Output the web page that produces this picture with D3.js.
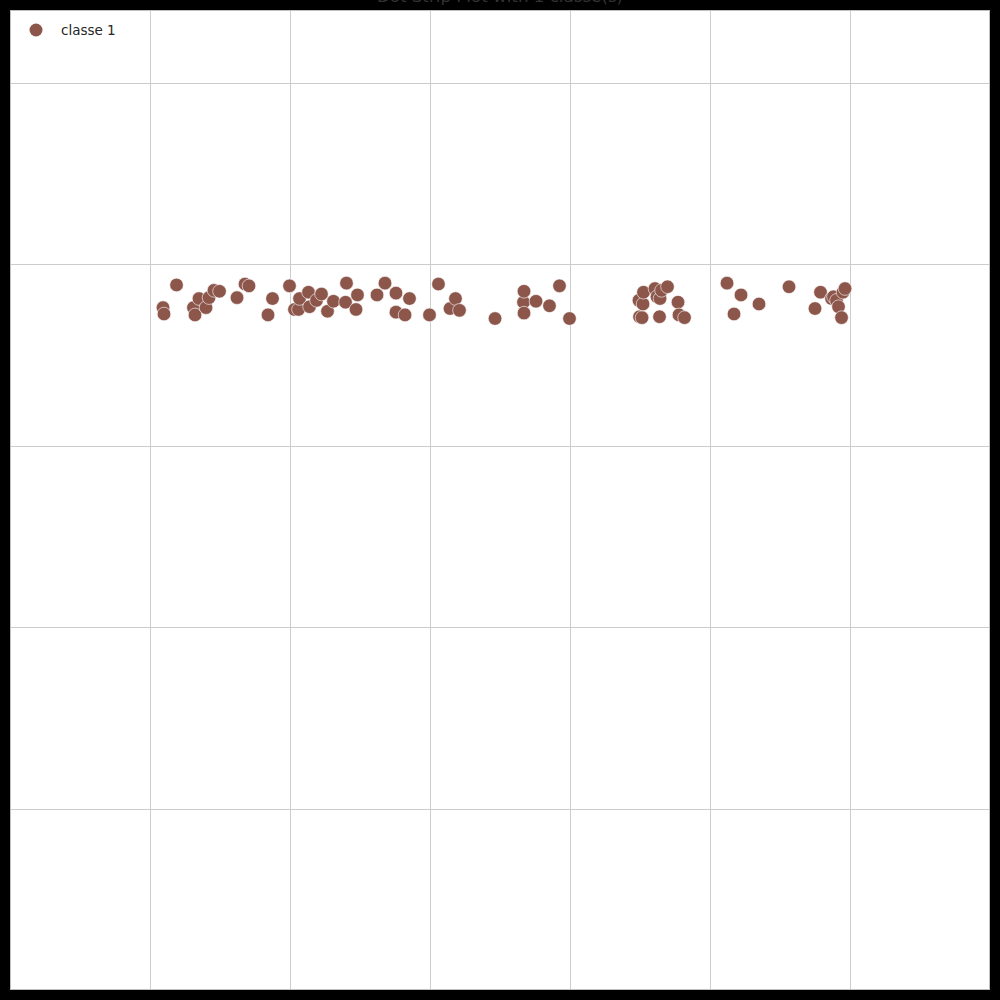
<!DOCTYPE html>
<html>
<head>
<meta charset="utf-8">
<script src="https://cdn.jsdelivr.net/npm/d3@7"></script>
<style>
  html, body { margin: 0; padding: 0; background: #000; }
  svg { display: block; }
</style>
</head>
<body>
<svg id="chart" width="1000" height="1000"></svg>
<script>
// ---- data ----
const title = "Dot Strip Plot with 1 classe(s)";
const classes = ["classe 1"];
const xValues = [1.86, 2.0, 3.79, 6.21, 6.43, 7.0, 8.0, 8.43, 9.14, 9.93,
  12.43, 13.57, 14.14, 16.86, 17.5, 19.93, 20.64, 21.21, 21.36, 22.64,
  22.79, 23.79, 24.5, 25.36, 26.21, 27.93, 28.07, 29.43, 29.64, 32.43,
  33.57, 35.14, 35.14, 36.43, 37.07, 39.93, 41.21, 42.86, 43.64, 44.21,
  49.29, 53.36, 53.43, 53.43, 55.14, 57.07, 58.5, 59.93, 69.86, 69.93,
  70.29, 70.43, 70.5, 72.14, 72.43, 72.79, 72.86, 73.07, 73.93, 75.43,
  75.57, 76.36, 82.43, 83.43, 84.43, 87.0, 91.29, 95.0, 95.79, 97.36,
  97.64, 98.07, 98.36, 98.79, 99.0, 99.29];
const yValues = [0.152, 0.145, 0.177, 0.152, 0.144, 0.162, 0.152, 0.163, 0.171, 0.170,
  0.163, 0.178, 0.176, 0.144, 0.162, 0.176, 0.150, 0.150, 0.162, 0.169,
  0.153, 0.160, 0.167, 0.148, 0.159, 0.158, 0.179, 0.150, 0.166, 0.166,
  0.179, 0.168, 0.147, 0.144, 0.162, 0.144, 0.178, 0.151, 0.162, 0.149,
  0.140, 0.158, 0.170, 0.146, 0.159, 0.154, 0.176, 0.140, 0.160, 0.142,
  0.141, 0.156, 0.169, 0.173, 0.164, 0.142, 0.162, 0.171, 0.175, 0.158,
  0.144, 0.141, 0.179, 0.145, 0.166, 0.156, 0.175, 0.151, 0.169, 0.162,
  0.164, 0.160, 0.153, 0.141, 0.169, 0.173];
const xTicks = [0, 20, 40, 60, 80, 100];
const yTicks = [-0.4, -0.2, 0, 0.2, 0.4];
const xDomain = [-20, 120];
const yDomain = [-0.6, 0.48];
const classColors = ["#8c564b"];

// ---- layout ----
const svg = d3.select("#chart");
const plot = { left: 10, top: 10, right: 990, bottom: 990 };

svg.append("rect").attr("x", 0).attr("y", 0).attr("width", 1000).attr("height", 1000).attr("fill", "#000");

const x = d3.scaleLinear().domain(xDomain).range([plot.left, plot.right]);
const y = d3.scaleLinear().domain(yDomain).range([plot.bottom, plot.top]);

svg.append("rect")
  .attr("x", plot.left).attr("y", plot.top)
  .attr("width", plot.right - plot.left).attr("height", plot.bottom - plot.top)
  .attr("fill", "#fff");

// grid via axes
const gx = svg.append("g")
  .attr("transform", `translate(0,${plot.bottom})`)
  .call(d3.axisBottom(x).tickValues(xTicks).tickSize(-(plot.bottom - plot.top)).tickFormat(""));
const gy = svg.append("g")
  .attr("transform", `translate(${plot.left},0)`)
  .call(d3.axisLeft(y).tickValues(yTicks).tickSize(-(plot.right - plot.left)).tickFormat(""));
[gx, gy].forEach(g => {
  g.select(".domain").remove();
  g.selectAll(".tick line").attr("stroke", "#cccccc").attr("stroke-width", 1).attr("shape-rendering", "crispEdges");
});

// frame
svg.append("rect")
  .attr("x", plot.left + 0.5).attr("y", plot.top + 0.5)
  .attr("width", plot.right - plot.left - 1).attr("height", plot.bottom - plot.top - 1)
  .attr("fill", "none").attr("stroke", "#c0c0c0").attr("stroke-width", 1);

// points
const pts = xValues.map((v, i) => ({ x: v, y: yValues[i] }));
svg.append("g").selectAll("circle").data(pts).join("circle")
  .attr("cx", d => x(d.x))
  .attr("cy", d => y(d.y))
  .attr("r", 6.8)
  .attr("fill", classColors[0])
  .attr("stroke", "#ffffff")
  .attr("stroke-width", 0.6);

// legend
const legend = svg.append("g");
classes.forEach((c, i) => {
  legend.append("circle").attr("cx", 36).attr("cy", 30 + i * 22).attr("r", 6.5).attr("fill", classColors[i]);
  legend.append("text").attr("x", 61).attr("y", 30 + i * 22).attr("dy", "0.35em")
    .attr("font-family", "DejaVu Sans, sans-serif").attr("font-size", 13.5)
    .attr("fill", "#262626").text(c);
});

// title (mostly clipped at the top edge)
svg.append("text")
  .attr("x", 500).attr("y", 2)
  .attr("text-anchor", "middle")
  .attr("font-family", "DejaVu Sans, sans-serif")
  .attr("font-size", 16.7)
  .attr("fill", "#333333")
  .text(title);
</script>
</body>
</html>
